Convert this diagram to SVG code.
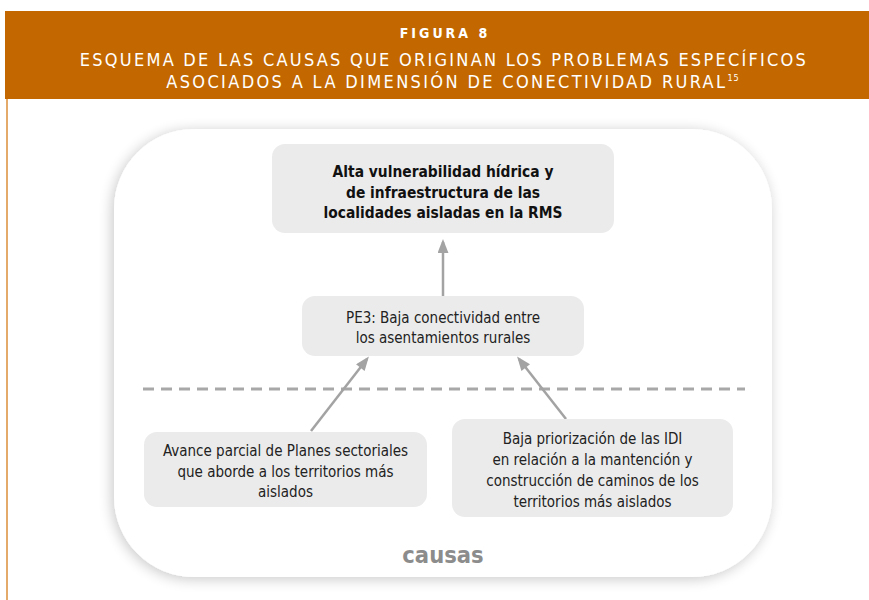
<svg xmlns="http://www.w3.org/2000/svg" width="869" height="600" viewBox="0 0 869 600">
<defs>
<filter id="sh" x="-20%" y="-20%" width="140%" height="140%">
<feGaussianBlur in="SourceAlpha" stdDeviation="7"/>
<feOffset dx="-2" dy="2" result="b"/>
<feComponentTransfer><feFuncA type="linear" slope="0.22"/></feComponentTransfer>
<feMerge><feMergeNode/><feMergeNode in="SourceGraphic"/></feMerge>
</filter>
<marker id="ah" viewBox="0 0 14 18" refX="14" refY="7" markerWidth="18" markerHeight="14" markerUnits="userSpaceOnUse" orient="auto">
<path d="M0,0 L18,7 L0,14 z" fill="#a3a3a3"/>
</marker>
<style>
.hd{font-family:"Liberation Sans Narrow","DejaVu Sans Condensed","Roboto Condensed",sans-serif;font-stretch:condensed;fill:#fff;text-anchor:middle}
.t{font-family:"Liberation Sans Narrow","DejaVu Sans Condensed","Roboto Condensed",sans-serif;font-stretch:condensed;fill:#222;text-anchor:middle;font-size:15px}
.b{font-weight:bold;font-size:15.4px;fill:#111}
.node{fill:#ebebeb}
.conn{stroke:#a3a3a3;stroke-width:2.5;fill:none}
</style>
</defs>
<rect width="869" height="600" fill="#fff"/>
<rect x="5" y="11" width="864" height="88" fill="#c36800"/>
<line x1="7" y1="99" x2="7" y2="600" stroke="#e3aa6a" stroke-width="2"/>
<text class="hd" x="445" y="38" font-size="14" font-weight="bold" letter-spacing="3">FIGURA 8</text>
<text class="hd" x="444" y="66" font-size="18" letter-spacing="2.25">ESQUEMA DE LAS CAUSAS QUE ORIGINAN LOS PROBLEMAS ESPECÍFICOS</text>
<text class="hd" x="453" y="88" font-size="18" letter-spacing="2.35">ASOCIADOS A LA DIMENSIÓN DE CONECTIVIDAD RURAL<tspan font-size="9" dy="-7" letter-spacing="1">15</tspan></text>
<rect x="114" y="129" width="658" height="448" rx="80" fill="#fff" filter="url(#sh)"/>
<line x1="143" y1="389" x2="745" y2="389" stroke="#a8a8a8" stroke-width="3" stroke-dasharray="11 7"/>
<g id="connectors">
<line class="conn" x1="443" y1="296" x2="443" y2="242" marker-end="url(#ah)"/>
<line class="conn" x1="311" y1="431" x2="367" y2="359" marker-end="url(#ah)"/>
<line class="conn" x1="566" y1="419" x2="519" y2="359" marker-end="url(#ah)"/>
</g>
<g id="n-top">
<rect class="node" x="272" y="144" width="342" height="89" rx="13"/>
<text class="t b" x="443" y="177">Alta vulnerabilidad hídrica y</text>
<text class="t b" x="443" y="198">de infraestructura de las</text>
<text class="t b" x="443" y="218">localidades aisladas en la RMS</text>
</g>
<g id="n-pe3">
<rect class="node" x="302" y="296" width="282" height="60" rx="13"/>
<text class="t" x="443" y="323">PE3: Baja conectividad entre</text>
<text class="t" x="443" y="343">los asentamientos rurales</text>
</g>
<g id="n-left">
<rect class="node" x="144" y="432" width="283" height="75" rx="13"/>
<text class="t" x="285.5" y="456">Avance parcial de Planes sectoriales</text>
<text class="t" x="285.5" y="477">que aborde a los territorios más</text>
<text class="t" x="285.5" y="497">aislados</text>
</g>
<g id="n-right">
<rect class="node" x="452" y="419" width="281" height="98" rx="13"/>
<text class="t" x="592.5" y="444">Baja priorización de las IDI</text>
<text class="t" x="592.5" y="465">en relación a la mantención y</text>
<text class="t" x="592.5" y="486">construcción de caminos de los</text>
<text class="t" x="592.5" y="507">territorios más aislados</text>
</g>
<text class="t" x="443" y="563" style="font-size:23.5px;font-weight:bold;fill:#8c8c8c">causas</text>
</svg>
